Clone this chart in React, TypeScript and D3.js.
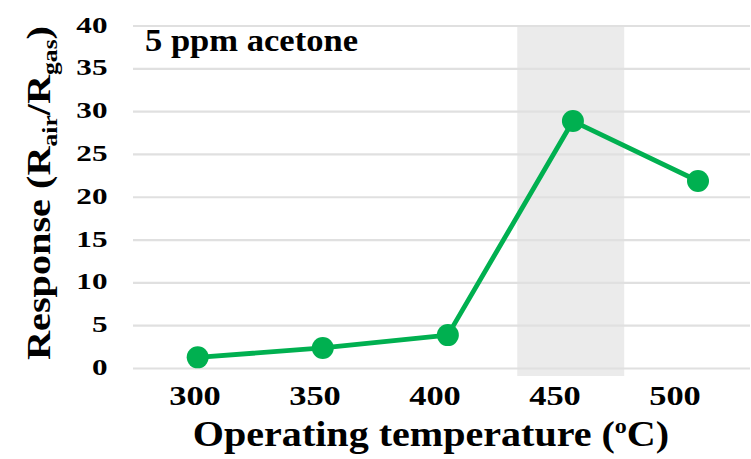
import React from "react";
import * as d3 from "d3";

const temperatures = [300, 350, 400, 450, 500];
const responses = [1.3, 2.4, 3.9, 28.9, 21.9];
const yTicks = [0, 5, 10, 15, 20, 25, 30, 35, 40];
const highlightTemp = 450;
const annotation = "5 ppm acetone";

const W = 751;
const H = 459;
const FONT = "'Liberation Serif', 'Times New Roman', serif";
const GREEN = "#00b050";

export default function App() {
  const y = d3.scaleLinear().domain([0, 40]).range([368.5, 26]);
  const xMark = d3.scalePoint<number>().domain(temperatures).range([197.7, 698]);
  const xLabel = d3.scalePoint<number>().domain(temperatures).range([195, 675]);
  const step = xMark.step();
  const bandX0 = (xMark(highlightTemp) as number) - step * 0.445;
  const bandX1 = (xMark(highlightTemp) as number) + step * 0.41;

  const pts = temperatures.map((t, i) => [xMark(t) as number, y(responses[i])] as [number, number]);
  const line = d3.line()(pts) as string;

  return (
    <svg width={W} height={H} style={{ position: "absolute", left: 0, top: 0, background: "#fff" }}>
      <rect x={bandX0} y={y(40)} width={bandX1 - bandX0} height={376 - y(40)} fill="#ebebeb" />
      {yTicks.map((t) => (
        <line key={t} x1={133} x2={750} y1={y(t)} y2={y(t)} stroke="#e0e0e0" strokeWidth={2.2} />
      ))}
      {yTicks.map((t) => (
        <text
          key={"yl" + t}
          transform={`translate(107.5,${y(t) + 6.5}) scale(1.3,1)`}
          textAnchor="end"
          fontFamily={FONT}
          fontWeight="bold"
          fontSize={24}
          fill="#000"
        >
          {t}
        </text>
      ))}
      {temperatures.map((t) => (
        <text
          key={"xl" + t}
          transform={`translate(${xLabel(t)},405) scale(1.3,1)`}
          textAnchor="middle"
          fontFamily={FONT}
          fontWeight="bold"
          fontSize={26.5}
          fill="#000"
        >
          {t}
        </text>
      ))}
      <path d={line} fill="none" stroke={GREEN} strokeWidth={4.8} strokeLinejoin="round" />
      {pts.map((p, i) => (
        <circle key={i} cx={p[0]} cy={p[1]} r={11} fill={GREEN} />
      ))}
      <text
        x={145}
        y={51}
        fontFamily={FONT}
        fontWeight="bold"
        fontSize={31}
        textLength={213}
        lengthAdjust="spacingAndGlyphs"
        fill="#000"
      >
        {annotation}
      </text>
      <text
        transform={`translate(431,446) scale(1.145,1)`}
        textAnchor="middle"
        fontFamily={FONT}
        fontWeight="bold"
        fontSize={35}
        fill="#000"
      >
        Operating temperature (
        <tspan fontSize={21} dy={-13}>o</tspan>
        <tspan dy={13}>C)</tspan>
      </text>
      <text
        transform={`translate(50,193) rotate(-90) scale(1.22,1)`}
        textAnchor="middle"
        fontFamily={FONT}
        fontWeight="bold"
        fontSize={33}
        fill="#000"
      >
        Response (R
        <tspan fontSize={21} dy={7}>air</tspan>
        <tspan dy={-7}>/R</tspan>
        <tspan fontSize={21} dy={7}>gas</tspan>
        <tspan dy={-7}>)</tspan>
      </text>
    </svg>
  );
}
